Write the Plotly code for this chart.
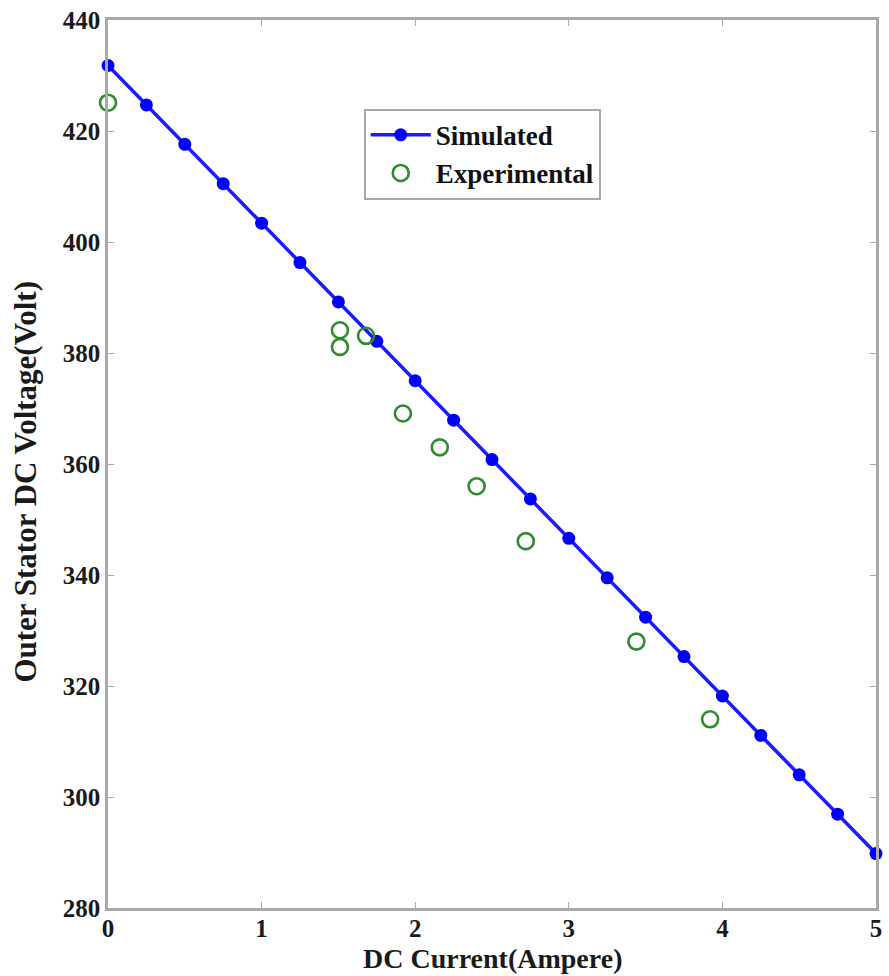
import plotly.graph_objects as go

sim_current = [0, 0.25, 0.5, 0.75, 1.0, 1.25, 1.5, 1.75, 2.0, 2.25, 2.5, 2.75,
               3.0, 3.25, 3.5, 3.75, 4.0, 4.25, 4.5, 4.75, 5.0]
sim_voltage = [431.8, 424.7, 417.6, 410.5, 403.4, 396.3, 389.2, 382.1, 375.0, 367.9,
               360.8, 353.7, 346.6, 339.5, 332.4, 325.3, 318.2, 311.1, 304.0, 296.9, 289.8]

exp_current = [0, 1.51, 1.51, 1.68, 1.92, 2.16, 2.40, 2.72, 3.44, 3.92]
exp_voltage = [425.1, 384.1, 381.1, 383.1, 369.1, 363.0, 356.0, 346.1, 328.0, 314.0]

x_ticks = [0, 1, 2, 3, 4, 5]
y_ticks = [280, 300, 320, 340, 360, 380, 400, 420, 440]

x_title = "DC Current(Ampere)"
y_title = "Outer Stator DC Voltage(Volt)"

font_family = "Liberation Serif"

fig = go.Figure()
fig.add_trace(go.Scatter(
    x=sim_current, y=sim_voltage, mode="lines+markers", name="<b>Simulated</b>",
    line=dict(color="#1a1aff", width=3.5),
    marker=dict(symbol="circle", size=13, color="#0000ff"),
    cliponaxis=False,
))
fig.add_trace(go.Scatter(
    x=exp_current, y=exp_voltage, mode="markers", name="<b>Experimental</b>",
    marker=dict(symbol="circle-open", size=16, color="#2e8b2e", line=dict(width=2.6)),
    cliponaxis=False,
))

axis_common = dict(
    showgrid=False, zeroline=False, showline=True, linecolor="#a8a8a8", linewidth=2.5,
    mirror="ticks", ticks="inside", ticklen=6, tickcolor="#a8a8a8", tickwidth=1,
    tickfont=dict(family=font_family, size=25, color="#1a1a1a"),
)

fig.update_layout(
    width=889, height=976,
    margin=dict(l=108, r=7, t=20, b=68),
    paper_bgcolor="white", plot_bgcolor="white",
    font=dict(family=font_family, color="#1a1a1a"),
    xaxis=dict(range=[0, 5], tickvals=x_ticks, ticktext=[f"<b>{v}</b>" for v in x_ticks],
               ticklabelstandoff=-4, **axis_common),
    yaxis=dict(range=[280, 440], tickvals=y_ticks, ticktext=[f"<b>{v}</b>" for v in y_ticks],
               ticklabelstandoff=0, **axis_common),
    legend=dict(x=0.333, y=0.9, xanchor="left", yanchor="top",
                bgcolor="white", bordercolor="#a8a8a8", borderwidth=2,
                font=dict(family=font_family, size=27, color="#111"),
                itemwidth=60, tracegroupgap=0),
    showlegend=True,
    annotations=[
        dict(text=f"<b>{x_title}</b>", xref="paper", yref="paper", x=0.501, y=-0.077,
             xanchor="center", yanchor="bottom", showarrow=False,
             font=dict(family=font_family, size=28, color="#1a1a1a")),
        dict(text=f"<b>{y_title}</b>", xref="paper", yref="paper", x=-0.107, y=0.48,
             xanchor="center", yanchor="middle", showarrow=False, textangle=-90,
             font=dict(family=font_family, size=31, color="#1a1a1a")),
    ],
)

fig.write_html("out.html")
